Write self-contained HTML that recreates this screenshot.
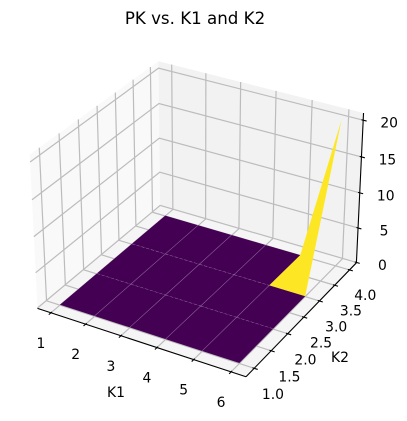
<!DOCTYPE html>
<html>
<head>
<meta charset="utf-8">
<title>PK vs. K1 and K2</title>
<style>
html,body{margin:0;padding:0;background:#fff;}
svg{display:block;}
text{font-family:"DejaVu Sans","Liberation Sans",sans-serif;fill:#000;}
</style>
</head>
<body>
<svg id="chart" width="407" height="421" viewBox="0 0 407 421" xmlns="http://www.w3.org/2000/svg">
<text x="195" y="24" text-anchor="middle" font-size="16.67">PK vs. K1 and K2</text>
<text x="116" y="397" text-anchor="middle" font-size="13.89">K1</text>
<text x="340" y="362" text-anchor="middle" font-size="13.89">K2</text>
</svg>
<script>
const k1Values = [1, 2, 3, 4, 5, 6];
const k2Values = [1, 2, 3, 4];
const pkValues = [
  [0, 0, 0, 0, 0, 0],
  [0, 0, 0, 0, 0, 0],
  [0, 0, 0, 0, 0, 0],
  [0, 0, 0, 0, 0, 20.4]
];
const xTickValues = [1, 2, 3, 4, 5, 6];
const yTickValues = [1, 1.5, 2, 2.5, 3, 3.5, 4];
const zTickValues = [0, 5, 10, 15, 20];
const xTickLabels = ['1', '2', '3', '4', '5', '6'];
const yTickLabels = ['1.0', '1.5', '2.0', '2.5', '3.0', '3.5', '4.0'];
const zTickLabels = ['0', '5', '10', '15', '20'];
const xLimits = [0.607, 6.393];
const yLimits = [0.764, 4.236];
const zLimits = [-0.06, 20.97];

const svg = document.getElementById('chart');
const NS = 'http://www.w3.org/2000/svg';
const HALF_XY = 0.62, HALF_Z = 0.455, SCALE = 1925, OX = 200, OY = 211, DIST = 10;

function xNorm(v) { return (v - xLimits[0]) / (xLimits[1] - xLimits[0]); }
function yNorm(v) { return (v - yLimits[0]) / (yLimits[1] - yLimits[0]); }
function zNorm(v) { return (v - zLimits[0]) / (zLimits[1] - zLimits[0]); }

// Camera: elev 30, azim -60, matching a default 3D axes
function project(nx, ny, nz) {
  const rx = (nx - 0.5) * 2 * HALF_XY;
  const ry = (ny - 0.5) * 2 * HALF_XY;
  const rz = (nz - 0.5) * 2 * HALF_Z;
  const xv = 0.866025 * rx + 0.5 * ry;
  const yv = -0.25 * rx + 0.433013 * ry + 0.866025 * rz;
  const d = 0.433013 * rx - 0.75 * ry + 0.5 * rz;
  const w = DIST - d;
  return [OX + SCALE * xv / w, OY - SCALE * yv / w];
}
function pts(list) {
  return list.map(function (p) { const s = project(p[0], p[1], p[2]); return s[0].toFixed(2) + ',' + s[1].toFixed(2); }).join(' ');
}
function makeShape(tag) {
  return document.createElementNS(NS, tag);
}
function styleLine(el, list, color, width) {
  el.setAttribute('points', pts(list));
  el.setAttribute('fill', 'none');
  el.setAttribute('stroke', color);
  el.setAttribute('stroke-width', width);
  svg.appendChild(el);
}
function styleFill(el, list, color) {
  el.setAttribute('points', pts(list));
  el.setAttribute('fill', color);
  svg.appendChild(el);
}
function placeLabel(el, x, y, str) {
  el.setAttribute('x', x.toFixed(2));
  el.setAttribute('y', y.toFixed(2));
  el.setAttribute('text-anchor', 'middle');
  el.setAttribute('font-size', '13.89');
  el.textContent = str;
  svg.appendChild(el);
}

// Panes
const paneLeft = makeShape('polygon');


styleFill(paneLeft, [[0,0,0],[0,1,0],[0,1,1],[0,0,1]], '#f9f9f9');
const paneRight = makeShape('polygon');


styleFill(paneRight, [[0,1,0],[1,1,0],[1,1,1],[0,1,1]], '#f2f2f2');
const paneFloor = makeShape('polygon');


styleFill(paneFloor, [[0,0,0],[1,0,0],[1,1,0],[0,1,0]], '#f5f5f5');

const GRID = '#bcbcbc', GW = 1.2;
const OUT = 0.016, IN = 0.008;

// Gridlines
xTickValues.forEach(function (v) {
  const n = xNorm(v);
  const line = makeShape('polyline');
  
  
  styleLine(line, [[n,0,0],[n,1,0],[n,1,1]], GRID, GW);
});
yTickValues.forEach(function (v) {
  const n = yNorm(v);
  const line = makeShape('polyline');
  
  
  styleLine(line, [[1,n,0],[0,n,0],[0,n,1]], GRID, GW);
});
zTickValues.forEach(function (v) {
  const n = zNorm(v);
  const line = makeShape('polyline');
  
  
  styleLine(line, [[0,0,n],[0,1,n],[1,1,n]], GRID, GW);
});

// Axis lines
const xAxisLine = makeShape('polyline');


styleLine(xAxisLine, [[0,0,0],[1,0,0]], '#000', 1.1);
const yAxisLine = makeShape('polyline');


styleLine(yAxisLine, [[1,0,0],[1,1,0]], '#000', 1.1);
const zAxisLine = makeShape('polyline');


styleLine(zAxisLine, [[1,1,0],[1,1,1]], '#000', 1.1);

// Ticks and tick labels
xTickValues.forEach(function (v, i) {
  const n = xNorm(v);
  const tick = makeShape('polyline');
  
  
  styleLine(tick, [[n,-OUT,0],[n,IN,0]], '#000', 1.1);
  const s = project(n, 0, 0);
  const label = makeShape('text');
  
  
  placeLabel(label, s[0] - 10, s[1] + 35, xTickLabels[i]);
});
yTickValues.forEach(function (v, i) {
  const n = yNorm(v);
  const tick = makeShape('polyline');
  
  
  styleLine(tick, [[1 + OUT,n,0],[1 - IN,n,0]], '#000', 1.1);
  const s = project(1, n, 0);
  const label = makeShape('text');
  
  
  placeLabel(label, s[0] + 19 - 3.5 * n, s[1] + 31 - n, yTickLabels[i]);
});
zTickValues.forEach(function (v, i) {
  const n = zNorm(v);
  const tick = makeShape('polyline');
  
  
  styleLine(tick, [[1 - IN,1,n],[1 + OUT,1,n]], '#000', 1.1);
  const s = project(1, 1, n);
  const label = makeShape('text');
  
  
  placeLabel(label, s[0] + 26, s[1] + 7.5, zTickLabels[i]);
});

// Surface
const viridisStops = ['#440154', '#3b528b', '#21918c', '#5ec962', '#fde725'];
function hexToRgb(h) { return [1, 3, 5].map(function (i) { return parseInt(h.substr(i, 2), 16); }); }
function viridis(t) {
  const c = Math.max(0, Math.min(1, t)) * (viridisStops.length - 1);
  const i = Math.min(Math.floor(c), viridisStops.length - 2);
  const a = hexToRgb(viridisStops[i]);
  const b = hexToRgb(viridisStops[i + 1]);
  const f = c - i;
  return 'rgb(' + a.map(function (v, j) { return Math.round(v + (b[j] - v) * f); }).join(',') + ')';
}
function surfacePoint(ri, ci) {
  return [xNorm(k1Values[ci]), yNorm(k2Values[ri]), zNorm(pkValues[ri][ci])];
}
function cellAverage(r, c) {
  return (pkValues[r][c] + pkValues[r][c + 1] + pkValues[r + 1][c] + pkValues[r + 1][c + 1]) / 4;
}
const cells = [];
for (let r = k2Values.length - 2; r >= 0; r--) {
  for (let c = 0; c < k1Values.length - 1; c++) {
    cells.push({ r: r, c: c, avg: cellAverage(r, c) });
  }
}
const avgs = cells.map(function (q) { return q.avg; });
const minAvg = Math.min.apply(null, avgs);
const maxAvg = Math.max.apply(null, avgs);
cells.forEach(function (q) {
  const t = maxAvg > minAvg ? (q.avg - minAvg) / (maxAvg - minAvg) : 0;
  const cell = makeShape('polygon');
  
  
  styleFill(cell, [surfacePoint(q.r, q.c), surfacePoint(q.r, q.c + 1), surfacePoint(q.r + 1, q.c + 1), surfacePoint(q.r + 1, q.c)], viridis(t));
});

// Faint seams between neighbouring cells of equal colour
for (let r = 1; r < k2Values.length - 1; r++) {
  for (let c = 0; c < k1Values.length - 1; c++) {
    if (cellAverage(r - 1, c) === cellAverage(r, c)) {
      const seam = makeShape('polyline');
      
      
      seam.setAttribute('stroke-opacity', '0.4');
      seam.setAttribute('stroke-dasharray', '3 2');
      styleLine(seam, [surfacePoint(r, c), surfacePoint(r, c + 1)], '#d9c9e0', 0.6);
    }
  }
}
for (let c = 1; c < k1Values.length - 1; c++) {
  for (let r = 0; r < k2Values.length - 1; r++) {
    if (cellAverage(r, c - 1) === cellAverage(r, c)) {
      const seam = makeShape('polyline');
      
      
      seam.setAttribute('stroke-opacity', '0.4');
      styleLine(seam, [surfacePoint(r, c), surfacePoint(r + 1, c)], '#d9c9e0', 0.6);
    }
  }
}
</script>
</body>
</html>
